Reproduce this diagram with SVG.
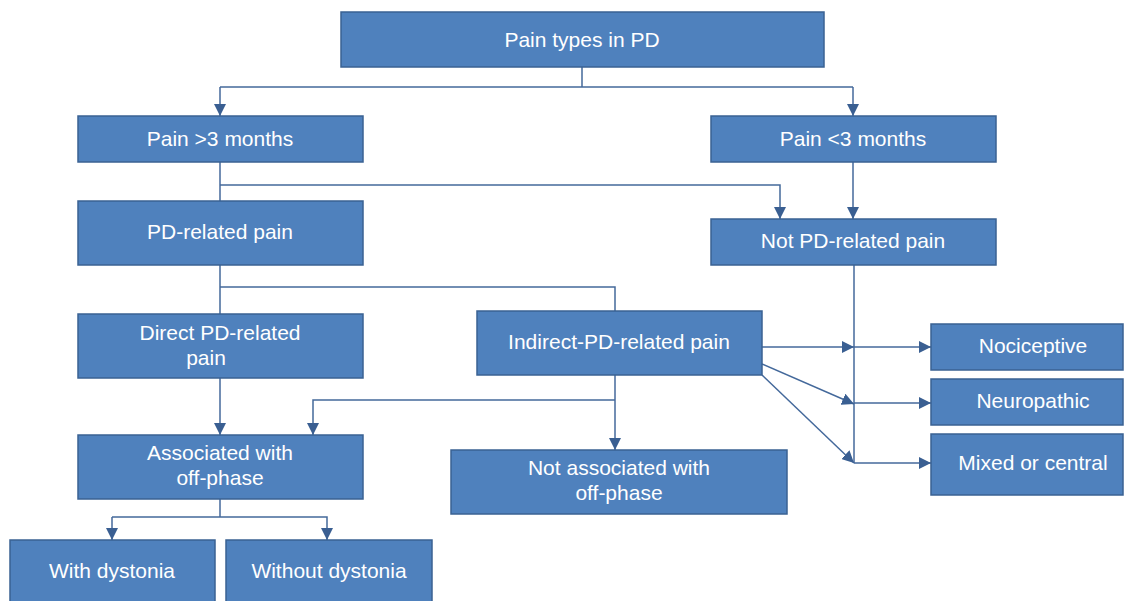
<svg xmlns="http://www.w3.org/2000/svg" width="1124" height="601" viewBox="0 0 1124 601">
<defs>
<marker id="ah" viewBox="0 0 12 12" refX="12" refY="6" markerWidth="12" markerHeight="12" markerUnits="userSpaceOnUse" orient="auto">
<path d="M0,0 L12,6 L0,12 z" fill="#3A5F92"/>
</marker>
<style>
.box{fill:#4F81BD;stroke:#3A6293;stroke-width:1.5}
.t{font-family:"Liberation Sans",Arial,sans-serif;font-size:21px;fill:#FFFFFF;text-anchor:middle}
.c{fill:none;stroke:#44699B;stroke-width:1.5}
.a{marker-end:url(#ah)}
</style>
</defs>
<rect width="1124" height="601" fill="#FFFFFF"/>
<g id="connectors">
<path class="c" d="M582,67 V87 M220,87 H853"/>
<path class="c a" d="M220,87 V116"/>
<path class="c a" d="M853,87 V116"/>
<path class="c" d="M220,162 V201"/>
<path class="c a" d="M220,185 H780 V219"/>
<path class="c a" d="M853,162 V219"/>
<path class="c" d="M220,265 V314 M220,287 H615 V311"/>
<path class="c" d="M854,265 V463"/>
<path class="c a" d="M854,347 H931"/>
<path class="c a" d="M854,403 H931"/>
<path class="c a" d="M854,463 H931"/>
<path class="c a" d="M762,347 H854"/>
<path class="c a" d="M762,364 L854,404"/>
<path class="c a" d="M762,375 L854,463"/>
<path class="c a" d="M615,375 V450"/>
<path class="c a" d="M615,400 H313 V435"/>
<path class="c a" d="M220,378 V435"/>
<path class="c" d="M220,499 V517"/>
<path class="c a" d="M112,517 H327 V540"/>
<path class="c a" d="M112,517 V540"/>
</g>
<g id="n-top"><rect class="box" x="341" y="12" width="483" height="55"/><text class="t" x="582" y="47">Pain types in PD</text></g>
<g id="n-gt3"><rect class="box" x="78" y="116" width="285" height="46"/><text class="t" x="220" y="146">Pain &gt;3 months</text></g>
<g id="n-lt3"><rect class="box" x="711" y="116" width="285" height="46"/><text class="t" x="853" y="146">Pain &lt;3 months</text></g>
<g id="n-pdrel"><rect class="box" x="78" y="201" width="285" height="64"/><text class="t" x="220" y="239">PD-related pain</text></g>
<g id="n-notpd"><rect class="box" x="711" y="219" width="285" height="46"/><text class="t" x="853" y="248">Not PD-related pain</text></g>
<g id="n-direct"><rect class="box" x="78" y="314" width="285" height="64"/><text class="t" x="220" y="340">Direct PD-related</text><text class="t" x="206" y="365">pain</text></g>
<g id="n-indirect"><rect class="box" x="477" y="311" width="285" height="64"/><text class="t" x="619" y="349">Indirect-PD-related pain</text></g>
<g id="n-noci"><rect class="box" x="931" y="324" width="192" height="46"/><text class="t" x="1033" y="353">Nociceptive</text></g>
<g id="n-neuro"><rect class="box" x="931" y="379" width="192" height="46"/><text class="t" x="1033" y="408">Neuropathic</text></g>
<g id="n-mixed"><rect class="box" x="931" y="434" width="192" height="61"/><text class="t" x="1033" y="470">Mixed or central</text></g>
<g id="n-assoc"><rect class="box" x="78" y="435" width="285" height="64"/><text class="t" x="220" y="460">Associated with</text><text class="t" x="220" y="485">off-phase</text></g>
<g id="n-notassoc"><rect class="box" x="451" y="450" width="336" height="64"/><text class="t" x="619" y="475">Not associated with</text><text class="t" x="619" y="500">off-phase</text></g>
<g id="n-with"><rect class="box" x="10" y="540" width="205" height="62"/><text class="t" x="112" y="578">With dystonia</text></g>
<g id="n-without"><rect class="box" x="226" y="540" width="206" height="62"/><text class="t" x="329" y="578">Without dystonia</text></g>
</svg>
